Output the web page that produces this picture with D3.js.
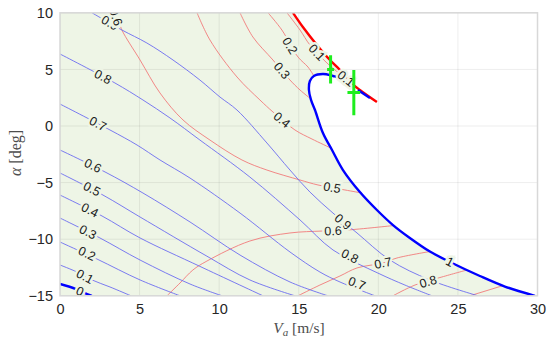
<!DOCTYPE html>
<html>
<head>
<meta charset="utf-8">
<script src="https://cdn.jsdelivr.net/npm/d3@7"></script>
<style>
body { margin: 0; background: #fff; }
svg { display: block; }
</style>
</head>
<body>
<script>
// contour lines, points are [Va (m/s), alpha (deg)]
// blue family (levels 0 .. 1)
var blue00 = [[0,-13.96],[1.0,-14.4],[1.7,-14.84],[2.0,-15]];
var blue01 = [[0,-12.28],[1.07,-12.9],[2.01,-13.6],[3.14,-14.22],[4.46,-15]];
var blue02 = [[0,-10.25],[2.32,-11.75],[5.03,-13.6],[7.54,-15]];
var blue03 = [[0,-8.13],[2.51,-9.89],[5.03,-11.84],[8.17,-13.96],[10.18,-15]];
var blue04 = [[0,-6.1],[2.64,-7.95],[5.03,-9.89],[8.79,-12.4],[12.75,-15]];
var blue05 = [[0,-4.15],[2.7,-6.1],[5.03,-8.04],[9.23,-11.5],[11.93,-13.6],[14.76,-15]];
var blue06 = [[0,-2.12],[2.83,-4.06],[5.21,-5.92],[8.17,-8.48],[11.31,-11.4],[14.45,-13.78],[16.83,-15]];
var blue07 = [[0,1.94],[3.14,-0.35],[4.84,-1.68],[6.28,-3.0],[8.17,-4.6],[11.31,-7.69],[14.45,-11.13],[16.33,-12.9],[17.59,-13.78],[19.79,-15]];
var blue08 = [[0,6.36],[3.45,3.8],[5.21,2.3],[6.91,0.71],[8.79,-1.24],[11.93,-4.51],[15.08,-8.3],[17.15,-10.95],[19.97,-12.99],[21.67,-14.05],[23.37,-15]];
var blue09 = [[2.01,10],[3.89,8.48],[5.46,7.33],[7.1,5.83],[8.79,4.06],[10.05,2.56],[11.12,1.41],[13.0,-1.5],[14.45,-3.89],[15.7,-5.83],[17.15,-7.69],[18.66,-9.45],[20.73,-11.84],[23.24,-13.6],[26.26,-15]];
var blue10 = [[18.03,3.8],[17.59,4.24],[17.15,4.42],[16.52,4.59],[15.95,4.42],[15.7,3.97],[15.64,3.18],[15.77,2.3],[16.02,1.41],[16.52,-0.62],[17.09,-2.12],[17.78,-3.89],[18.84,-5.83],[19.91,-7.42],[20.92,-8.75],[21.98,-9.89],[23.24,-11.09],[24.5,-12.01],[26.38,-13.25],[27.95,-14.18],[29.84,-15]];
var blue10b = [[18.72,3.18],[19.47,2.47]];

// red family (levels 0 .. 0.9)
var red00 = [[14.64,10],[15.26,8.75],[16.14,7.16],[16.96,5.83],[17.59,4.95],[18.09,4.06],[18.84,3.18],[19.91,2.12]];
var red01 = [[14.26,10],[15.08,8.48],[15.7,7.16],[16.77,5.57],[17.59,4.59],[18.22,3.89],[18.72,3.36]];
var red02 = [[13.07,10],[13.94,8.48],[14.95,6.1],[15.58,5.21],[15.95,4.42]];
var red03 = [[11.31,10],[12.12,7.86],[13.38,5.83],[14.45,4.06],[15.08,3.18],[15.77,2.38]];
var red04 = [[8.61,10],[9.42,7.6],[11.12,4.33],[12.56,2.3],[13.38,1.24],[14.76,-0.35],[15.83,-1.15],[17.02,-1.95]];
var red05 = [[3.7,9.3],[3.89,8.48],[5.03,5.83],[6.28,2.92],[7.73,0.53],[9.42,-1.24],[11.43,-3.0],[13.0,-3.89],[15.08,-4.77],[16.21,-5.21],[17.9,-5.65],[18.97,-5.92]];
var red06 = [[6.72,-15],[7.54,-13.87],[8.35,-12.72],[9.23,-11.93],[11.93,-10.16],[14.45,-9.45],[16.46,-9.28],[18.03,-9.19],[20.92,-8.8]];
var red07 = [[14.95,-15],[16.33,-14.05],[17.59,-13.25],[18.66,-12.54],[20.29,-12.1],[21.17,-11.66],[23.24,-11.09]];
var red08 = [[20.92,-15],[22.3,-14.05],[23.99,-13.34],[25.57,-12.72]];
var red09 = [[25.75,-15],[27.83,-14.1]];

// contour label positions
var blueLabels = [
  ["0", [1.26,-14.6]], ["0.1", [1.57,-13.28]], ["0.2", [1.7,-11.26]], ["0.3", [1.76,-9.36]],
  ["0.4", [1.88,-7.42]], ["0.5", [2.01,-5.55]], ["0.6", [2.07,-3.5]], ["0.7", [2.39,0.2]],
  ["0.7", [18.66,-13.9]], ["0.8", [2.7,4.35]], ["0.8", [18.22,-11.5]], ["0.9", [3.14,9.12]],
  ["0.9", [17.78,-8.45]], ["1", [24.5,-12.0]]
];
var redLabels = [
  ["0.6", [3.52,9.63]], ["0.1", [16.14,6.5]], ["0.1", [17.97,4.19]], ["0.2", [14.45,7.1]],
  ["0.3", [13.94,4.9]], ["0.4", [13.94,0.55]], ["0.5", [17.09,-5.43]], ["0.6", [17.15,-9.26]],
  ["0.7", [20.29,-12.1]], ["0.8", [23.12,-13.75]]
];

// measured points with error bars: Va, alpha, +-alpha, +-Va
var measV = [17.0, 18.46];
var measA = [5.0, 2.95];
var measErrA = [1.25, 2.0];
var measErrV = [0.22, 0.4];

var xTicks = [0, 5, 10, 15, 20, 25, 30];
var yTicks = [-15, -10, -5, 0, 5, 10];

var bg = "#eef5e6";

var svg = d3.select("body").append("svg")
  .attr("width", 550)
  .attr("height", 343);

var x = d3.scaleLinear().domain([0, 30]).range([60, 537.5]);
var y = d3.scaleLinear().domain([-15, 10]).range([295.8, 12.8]);

var curve = d3.line()
  .x(d => x(d[0]))
  .y(d => y(d[1]))
  .curve(d3.curveCatmullRom.alpha(0.5));

svg.append("defs").append("clipPath").attr("id", "plot")
  .append("rect")
  .attr("x", x(0)).attr("y", y(10))
  .attr("width", x(30) - x(0)).attr("height", y(-15) - y(10));

var plot = svg.append("g").attr("clip-path", "url(#plot)");

// feasible region, bounded by the two thick curves
var fillPath = "M" + x(0) + "," + y(10)
  + curve(red00.slice(0, 6)).replace("M", "L")
  + curve(blue10).replace("M", "L")
  + "L" + x(30) + "," + y(-15)
  + "L" + x(0) + "," + y(-15) + "Z";
plot.append("path").attr("d", fillPath).attr("fill", bg);

// grid
plot.selectAll(".gx").data(xTicks).enter().append("line")
  .attr("x1", d => x(d)).attr("x2", d => x(d))
  .attr("y1", y(-15)).attr("y2", y(10))
  .attr("stroke", "#000").attr("stroke-opacity", 0.07);
plot.selectAll(".gy").data(yTicks).enter().append("line")
  .attr("x1", x(0)).attr("x2", x(30))
  .attr("y1", d => y(d)).attr("y2", d => y(d))
  .attr("stroke", "#000").attr("stroke-opacity", 0.07);

var thinBlue = [blue01, blue02, blue03, blue04, blue05, blue06, blue07, blue08, blue09];
var thinRed = [red01, red02, red03, red04, red05, red06, red07, red08, red09];

plot.selectAll(".tr").data(thinRed).enter().append("path")
  .attr("d", curve).attr("fill", "none")
  .attr("stroke", "#f27a7a").attr("stroke-width", 0.9);
plot.selectAll(".tb").data(thinBlue).enter().append("path")
  .attr("d", curve).attr("fill", "none")
  .attr("stroke", "#6c6cf0").attr("stroke-width", 0.9);

plot.append("path").attr("d", curve(red00)).attr("fill", "none")
  .attr("stroke", "#ff0000").attr("stroke-width", 2.4);
[blue00, blue10, blue10b].forEach(function(l) {
  plot.append("path").attr("d", curve(l)).attr("fill", "none")
    .attr("stroke", "#0000ff").attr("stroke-width", 2.4);
});

// rotation of a label = direction of the nearest line segment
var allLines = thinBlue.concat(thinRed, [blue00, blue10, blue10b, red00]);
function angleAt(p) {
  var px = x(p[0]), py = y(p[1]);
  var best = 1e9, ang = 0;
  allLines.forEach(function(l) {
    for (var i = 0; i < l.length - 1; i++) {
      var ax = x(l[i][0]), ay = y(l[i][1]), bx = x(l[i+1][0]), by = y(l[i+1][1]);
      var dx = bx - ax, dy = by - ay;
      var t = Math.max(0, Math.min(1, ((px - ax) * dx + (py - ay) * dy) / (dx * dx + dy * dy)));
      var d = Math.hypot(ax + t * dx - px, ay + t * dy - py);
      if (d < best) { best = d; ang = Math.atan2(dy, dx) * 180 / Math.PI; }
    }
  });
  if (ang > 90) ang -= 180;
  if (ang < -90) ang += 180;
  return ang;
}

plot.selectAll(".lab").data(blueLabels.concat(redLabels)).enter().append("text")
  .attr("transform", d => "translate(" + x(d[1][0]) + "," + y(d[1][1]) + ") rotate(" + angleAt(d[1]) + ")")
  .attr("text-anchor", "middle")
  .attr("dy", "0.35em")
  .attr("font-family", "'Liberation Sans', Arial, sans-serif")
  .attr("font-size", 12.5)
  .attr("fill", "#1a1a1a")
  .attr("stroke", bg)
  .attr("stroke-width", 5)
  .attr("paint-order", "stroke")
  .text(d => d[0]);

// green error-bar markers
var meas = measV.map((v, i) => ({v: v, a: measA[i], ea: measErrA[i], ev: measErrV[i]}));
plot.selectAll(".mv").data(meas).enter().append("line")
  .attr("x1", d => x(d.v)).attr("x2", d => x(d.v))
  .attr("y1", d => y(d.a + d.ea)).attr("y2", d => y(d.a - d.ea))
  .attr("stroke", "#1eee1e").attr("stroke-width", 3);
plot.selectAll(".mh").data(meas).enter().append("line")
  .attr("x1", d => x(d.v - d.ev)).attr("x2", d => x(d.v + d.ev))
  .attr("y1", d => y(d.a)).attr("y2", d => y(d.a))
  .attr("stroke", "#1eee1e").attr("stroke-width", 3);

// box
svg.append("rect")
  .attr("x", x(0)).attr("y", y(10))
  .attr("width", x(30) - x(0)).attr("height", y(-15) - y(10))
  .attr("fill", "none").attr("stroke", "#d8d8d8").attr("stroke-width", 1.5);

// axes (labels only)
var xAxis = svg.append("g")
  .attr("transform", "translate(0," + y(-15) + ")")
  .call(d3.axisBottom(x).tickValues(xTicks).tickSize(0).tickPadding(8));
var yAxis = svg.append("g")
  .attr("transform", "translate(" + x(0) + ",0)")
  .call(d3.axisLeft(y).tickValues(yTicks).tickSize(0).tickPadding(7));
[xAxis, yAxis].forEach(function(a) {
  a.select(".domain").remove();
  a.selectAll("text")
    .attr("font-family", "'Liberation Sans', Arial, sans-serif")
    .attr("font-size", 14.5)
    .attr("fill", "#262626");
});

// axis titles
var xt = svg.append("text")
  .attr("x", 299).attr("y", 333)
  .attr("text-anchor", "middle")
  .attr("font-family", "'Liberation Serif', 'DejaVu Serif', serif")
  .attr("font-size", 15.5)
  .attr("fill", "#4d4d4d");
xt.append("tspan").attr("font-style", "italic").text("V");
xt.append("tspan").attr("font-style", "italic").attr("font-size", 11).attr("dy", 3).text("a");
xt.append("tspan").attr("dy", -3).text(" [m/s]");

svg.append("text")
  .attr("transform", "translate(21,153) rotate(-90)")
  .attr("text-anchor", "middle")
  .attr("font-family", "'Liberation Serif', 'DejaVu Serif', serif")
  .attr("font-size", 16)
  .attr("fill", "#4d4d4d")
  .html('<tspan font-style="italic">α</tspan> [deg]');
</script>
</body>
</html>
